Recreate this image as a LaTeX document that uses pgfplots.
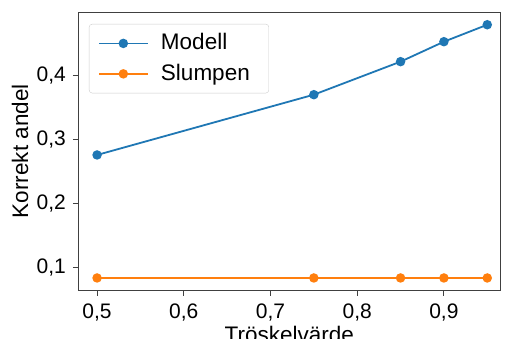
\documentclass[border=0pt]{standalone}
\usepackage{fontspec}
\setmainfont{Liberation Sans}
\usepackage{pgfplots}
\pgfplotsset{compat=1.18}
\definecolor{cblue}{HTML}{1F77B4}
\definecolor{corange}{HTML}{FF7F0E}
\begin{document}
\fontsize{21}{25}\selectfont
\begin{tikzpicture}
\begin{axis}[
  scale only axis,
  width=422.7pt, height=278.7pt,
  xmin=0.478, xmax=0.9655,
  ymin=0.0634, ymax=0.4989,
  xtick={0.5,0.6,0.7,0.8,0.9},
  ytick={0.1,0.2,0.3,0.4},
  tick pos=left,
  tick align=outside,
  major tick length=5pt,
  axis line style={black!75, line width=0.9pt},
  tick style={black!75, line width=0.9pt},
  /pgf/number format/.cd, use comma, fixed, fixed zerofill=false, assume math mode=true, /pgfplots/.cd,
  xticklabel style={font=\fontsize{21}{25}\selectfont, yshift=-1pt},
  yticklabel style={font=\fontsize{21}{25}\selectfont},
  xlabel={Tröskelvärde},
  ylabel={Korrekt andel},
  xlabel style={font=\fontsize{22.5}{27}\selectfont, at={(axis description cs:0.5,0)}, anchor=base, yshift=-52pt},
  ylabel style={font=\fontsize{22.5}{27}\selectfont, at={(axis description cs:0,0.5)}, anchor=center, yshift=58pt},
  legend style={at={(0.026,0.957)}, anchor=north west, draw=black!20, rounded corners=3pt,
    fill=white, font=\fontsize{22.5}{27}\selectfont, inner xsep=8pt, inner ysep=7.5pt,
    row sep=7pt, cells={anchor=west}},
  legend cell align=left,
  legend image code/.code={\path (-1pt,0pt); \draw[#1,line width=1.8pt,mark=none] (0pt,0pt) -- (48.5pt,0pt); \draw[#1,line width=1.8pt] plot coordinates {(24.25pt,0pt)}; \path (59pt,0pt);},
]
\addplot[cblue, line width=1.8pt, mark=*, mark size=3.8pt, mark options={solid}] coordinates {
  (0.5,0.2755) (0.75,0.3697) (0.85,0.4213) (0.9,0.4525) (0.95,0.479)};
\addlegendentry{Modell}
\addplot[corange, line width=1.8pt, mark=*, mark size=3.8pt, mark options={solid}] coordinates {
  (0.5,0.0833) (0.75,0.0833) (0.85,0.0833) (0.9,0.0833) (0.95,0.0833)};
\addlegendentry{Slumpen\rule{9pt}{0pt}}
\end{axis}
\pgfresetboundingbox
\path[use as bounding box] (-78pt,-48.3pt) rectangle (428pt,290.7pt);
\end{tikzpicture}
\end{document}
